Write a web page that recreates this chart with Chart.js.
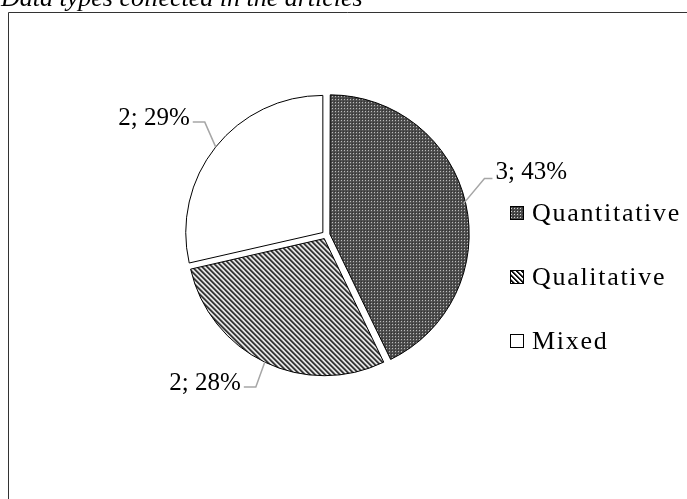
<!DOCTYPE html>
<html>
<head>
<meta charset="utf-8">
<script src="https://cdn.jsdelivr.net/npm/chart.js@4"></script>
<style>
  html, body { margin: 0; padding: 0; background: #fff; }
  #wrap { width: 687px; height: 499px; position: relative; }
</style>
</head>
<body>
<div id="wrap"><canvas id="pieChart" width="687" height="499"></canvas></div>
<script>
  // Data
  const categories = ['Quantitative', 'Qualitative', 'Mixed'];
  const counts = [3, 2, 2];
  const percentLabels = ['43%', '28%', '29%'];
  const chartTitle = 'Data types collected in the articles';

  const serif = '"Liberation Serif", "Times New Roman", serif';

  // Fill patterns like the print-friendly original
  function dotPattern() {
    const c = document.createElement('canvas');
    c.width = 3; c.height = 3;
    const g = c.getContext('2d');
    g.fillStyle = '#4c4c4c';
    g.fillRect(0, 0, 3, 3);
    g.fillStyle = '#d4d4d4';
    g.fillRect(1, 1, 1, 1);
    g.fillStyle = '#2e2e2e';
    g.fillRect(0, 0, 1, 1);
    return g.createPattern(c, 'repeat');
  }

  function stripePattern() {
    const n = 5;
    const c = document.createElement('canvas');
    c.width = n; c.height = n;
    const g = c.getContext('2d');
    g.fillStyle = '#ffffff';
    g.fillRect(0, 0, n, n);
    for (let x = 0; x < n; x++) {
      for (let y = 0; y < n; y++) {
        const k = ((x - y) % n + n) % n;
        if (k < 2) { g.fillStyle = '#111'; g.fillRect(x, y, 1, 1); }
        else if (k === 2) { g.fillStyle = '#999'; g.fillRect(x, y, 1, 1); }
      }
    }
    return g.createPattern(c, 'repeat');
  }

  const ctx0 = document.getElementById('pieChart').getContext('2d');
  const fills = [dotPattern(), stripePattern(), '#ffffff'];

  // frame + title, the title is cut by the top edge in the original
  const framePlugin = {
    id: 'frame',
    beforeDraw(chart) {
      const c = chart.ctx;
      c.save();
      c.fillStyle = '#fff';
      c.fillRect(0, 0, chart.width, chart.height);
      c.strokeStyle = '#333';
      c.lineWidth = 1;
      c.beginPath();
      c.moveTo(8.5, chart.height);
      c.lineTo(8.5, 12.5);
      c.lineTo(chart.width, 12.5);
      c.stroke();
      c.fillStyle = '#000';
      c.font = 'italic 26px ' + serif;
      c.textBaseline = 'alphabetic';
      c.fillText(chartTitle, 1, 6);
      c.restore();
    }
  };

  // "n; p%" labels with grey leader lines
  const leaderPlugin = {
    id: 'leaders',
    afterDatasetsDraw(chart, args, opts) {
      const c = chart.ctx;
      const arcs = chart.getDatasetMeta(0).data;
      c.save();
      c.font = opts.font;
      c.textBaseline = 'middle';
      arcs.forEach((arc, i) => {
        const mid = (arc.startAngle + arc.endAngle) / 2;
        const shift = (arc.options.offset || 0) / 4;
        const r = arc.outerRadius;
        const px = arc.x + Math.cos(mid) * (r + shift);
        const py = arc.y + Math.sin(mid) * (r + shift);
        const o = opts.offsets[i];
        const ex = px + o.dx, ey = py + o.dy;
        const side = o.dx > 0 ? 1 : -1;
        const hx = ex + side * o.h;
        c.strokeStyle = '#a6a6a6';
        c.lineWidth = 1.5;
        c.beginPath();
        c.moveTo(px, py);
        c.lineTo(ex, ey);
        c.lineTo(hx, ey);
        c.stroke();
        c.fillStyle = '#000';
        c.textAlign = side > 0 ? 'left' : 'right';
        c.fillText(counts[i] + '; ' + percentLabels[i], hx + side * 3, ey + o.ty);
      });
      c.restore();
    }
  };

  // legend to the right of the pie
  const legendPlugin = {
    id: 'sideLegend',
    afterDraw(chart, args, opts) {
      const c = chart.ctx;
      c.save();
      c.font = opts.font;
      c.textBaseline = 'middle';
      c.textAlign = 'left';
      chart.data.labels.forEach((lab, i) => {
        const y = opts.top + i * opts.step;
        const s = opts.box;
        c.fillStyle = fills[i];
        c.fillRect(opts.left, y - s / 2, s, s);
        c.strokeStyle = '#000';
        c.lineWidth = 1;
        c.strokeRect(opts.left + 0.5, Math.round(y - s / 2) + 0.5, s - 1, s - 1);
        c.fillStyle = '#000';
        c.letterSpacing = '1.7px';
        c.fillText(lab, opts.left + s + 8, y + 1);
        c.letterSpacing = '0px';
      });
      c.restore();
    }
  };

  new Chart(ctx0, {
    type: 'pie',
    data: {
      labels: categories,
      datasets: [{
        data: counts,
        backgroundColor: fills,
        borderColor: '#000',
        borderWidth: 1,
        offset: 16,
        hoverOffset: 0
      }]
    },
    options: {
      responsive: false,
      animation: false,
      radius: 137,
      layout: { padding: { left: 0, right: 35, top: 0, bottom: 29 } },
      plugins: {
        legend: { display: false },
        tooltip: { enabled: false },
        leaders: {
          font: '25px ' + serif,
          offsets: [
            { dx: 21, dy: -25, h: 8, ty: -6 },
            { dx: -9, dy: 25, h: 12, ty: -4 },
            { dx: -11, dy: -25, h: 12, ty: -4 }
          ]
        },
        sideLegend: { font: '26px ' + serif, left: 510, top: 213, step: 64, box: 14 }
      }
    },
    plugins: [framePlugin, leaderPlugin, legendPlugin]
  });
</script>
</body>
</html>
